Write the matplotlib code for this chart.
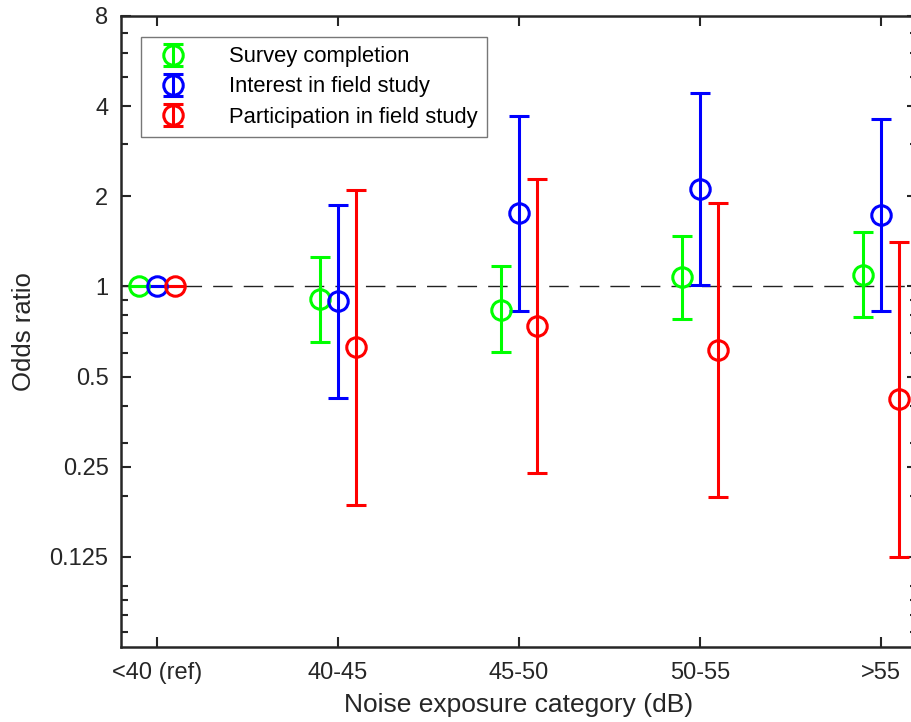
import matplotlib
matplotlib.use("Agg")
import matplotlib.pyplot as plt
import numpy as np
from matplotlib.ticker import FixedLocator, NullFormatter

plt.rcParams['font.family'] = ['Liberation Sans', 'DejaVu Sans']

categories = ['<40 (ref)', '40-45', '45-50', '50-55', '>55']

# odds ratio, lower CI, upper CI
survey_or = [1.0, 0.907, 0.833, 1.074, 1.09]
survey_lo = [1.0, 0.652, 0.603, 0.777, 0.788]
survey_hi = [1.0, 1.25, 1.169, 1.473, 1.518]

interest_or = [1.0, 0.895, 1.758, 2.116, 1.73]
interest_lo = [1.0, 0.423, 0.827, 1.01, 0.827]
interest_hi = [1.0, 1.87, 3.71, 4.42, 3.62]

particip_or = [1.0, 0.627, 0.737, 0.613, 0.422]
particip_lo = [1.0, 0.186, 0.238, 0.198, 0.125]
particip_hi = [1.0, 2.10, 2.28, 1.898, 1.403]

series = [
    ('Survey completion', survey_or, survey_lo, survey_hi, '#00ff00', -0.1),
    ('Interest in field study', interest_or, interest_lo, interest_hi, '#0000ff', 0.0),
    ('Participation in field study', particip_or, particip_lo, particip_hi, '#ff0000', 0.1),
]

fig = plt.figure(figsize=(9.11, 7.22), dpi=100)
ax = fig.add_axes([121/911, 75/722, 796/911, 631/722])

x = np.arange(1, len(categories) + 1)
ax.axhline(1, color='#222222', lw=1.0, ls=(0, (14, 8)), zorder=1)

for label, orv, lo, hi, col, off in series:
    orv = np.array(orv); lo = np.array(lo); hi = np.array(hi)
    yerr = np.vstack([orv - lo, hi - orv])
    ax.errorbar(x + off, orv, yerr=yerr, fmt='o', color=col, mfc='none',
                mec=col, ms=14, mew=2.2, elinewidth=2.2, capsize=7,
                capthick=2.2, label=label, zorder=3)

ax.set_yscale('log', base=2)
ax.set_ylim(0.0625, 8)
ax.set_xlim(0.8, 5.2)
yt = [0.125, 0.25, 0.5, 1, 2, 4, 8]
ax.yaxis.set_major_locator(FixedLocator(yt))
ax.set_yticklabels(['0.125', '0.25', '0.5', '1', '2', '4', '8'])
ax.yaxis.set_minor_locator(FixedLocator([0.07, 0.08, 0.09, 0.1, 0.2, 0.3, 0.4,
                                         0.6, 0.7, 0.8, 0.9, 3, 5, 6, 7]))
ax.yaxis.set_minor_formatter(NullFormatter())
ax.set_xticks(x)
ax.set_xticklabels(categories)

ax.tick_params(which='both', direction='in', top=True, right=True,
               labelsize=17, colors='#262626', width=1.5)
ax.tick_params(which='major', length=7)
ax.tick_params(axis='x', which='major', pad=11)
ax.tick_params(axis='y', which='major', pad=9)
ax.tick_params(which='minor', length=5)
for s in ax.spines.values():
    s.set_linewidth(1.8)
    s.set_color('#262626')

ax.set_xlabel('Noise exposure category (dB)', fontsize=19, color='#262626', labelpad=6)
ax.set_ylabel('Odds ratio', fontsize=18.5, color='#262626', labelpad=10)

leg = ax.legend(loc='upper left', bbox_to_anchor=(20/796, 1 - 21/631),
                borderaxespad=0, fontsize=15.8, frameon=True, fancybox=False,
                edgecolor='#555555', handlelength=2.1, handletextpad=1.5,
                labelspacing=0.42, borderpad=0.42)
leg.get_frame().set_linewidth(1.0)

fig.savefig('out.png', dpi=100)
